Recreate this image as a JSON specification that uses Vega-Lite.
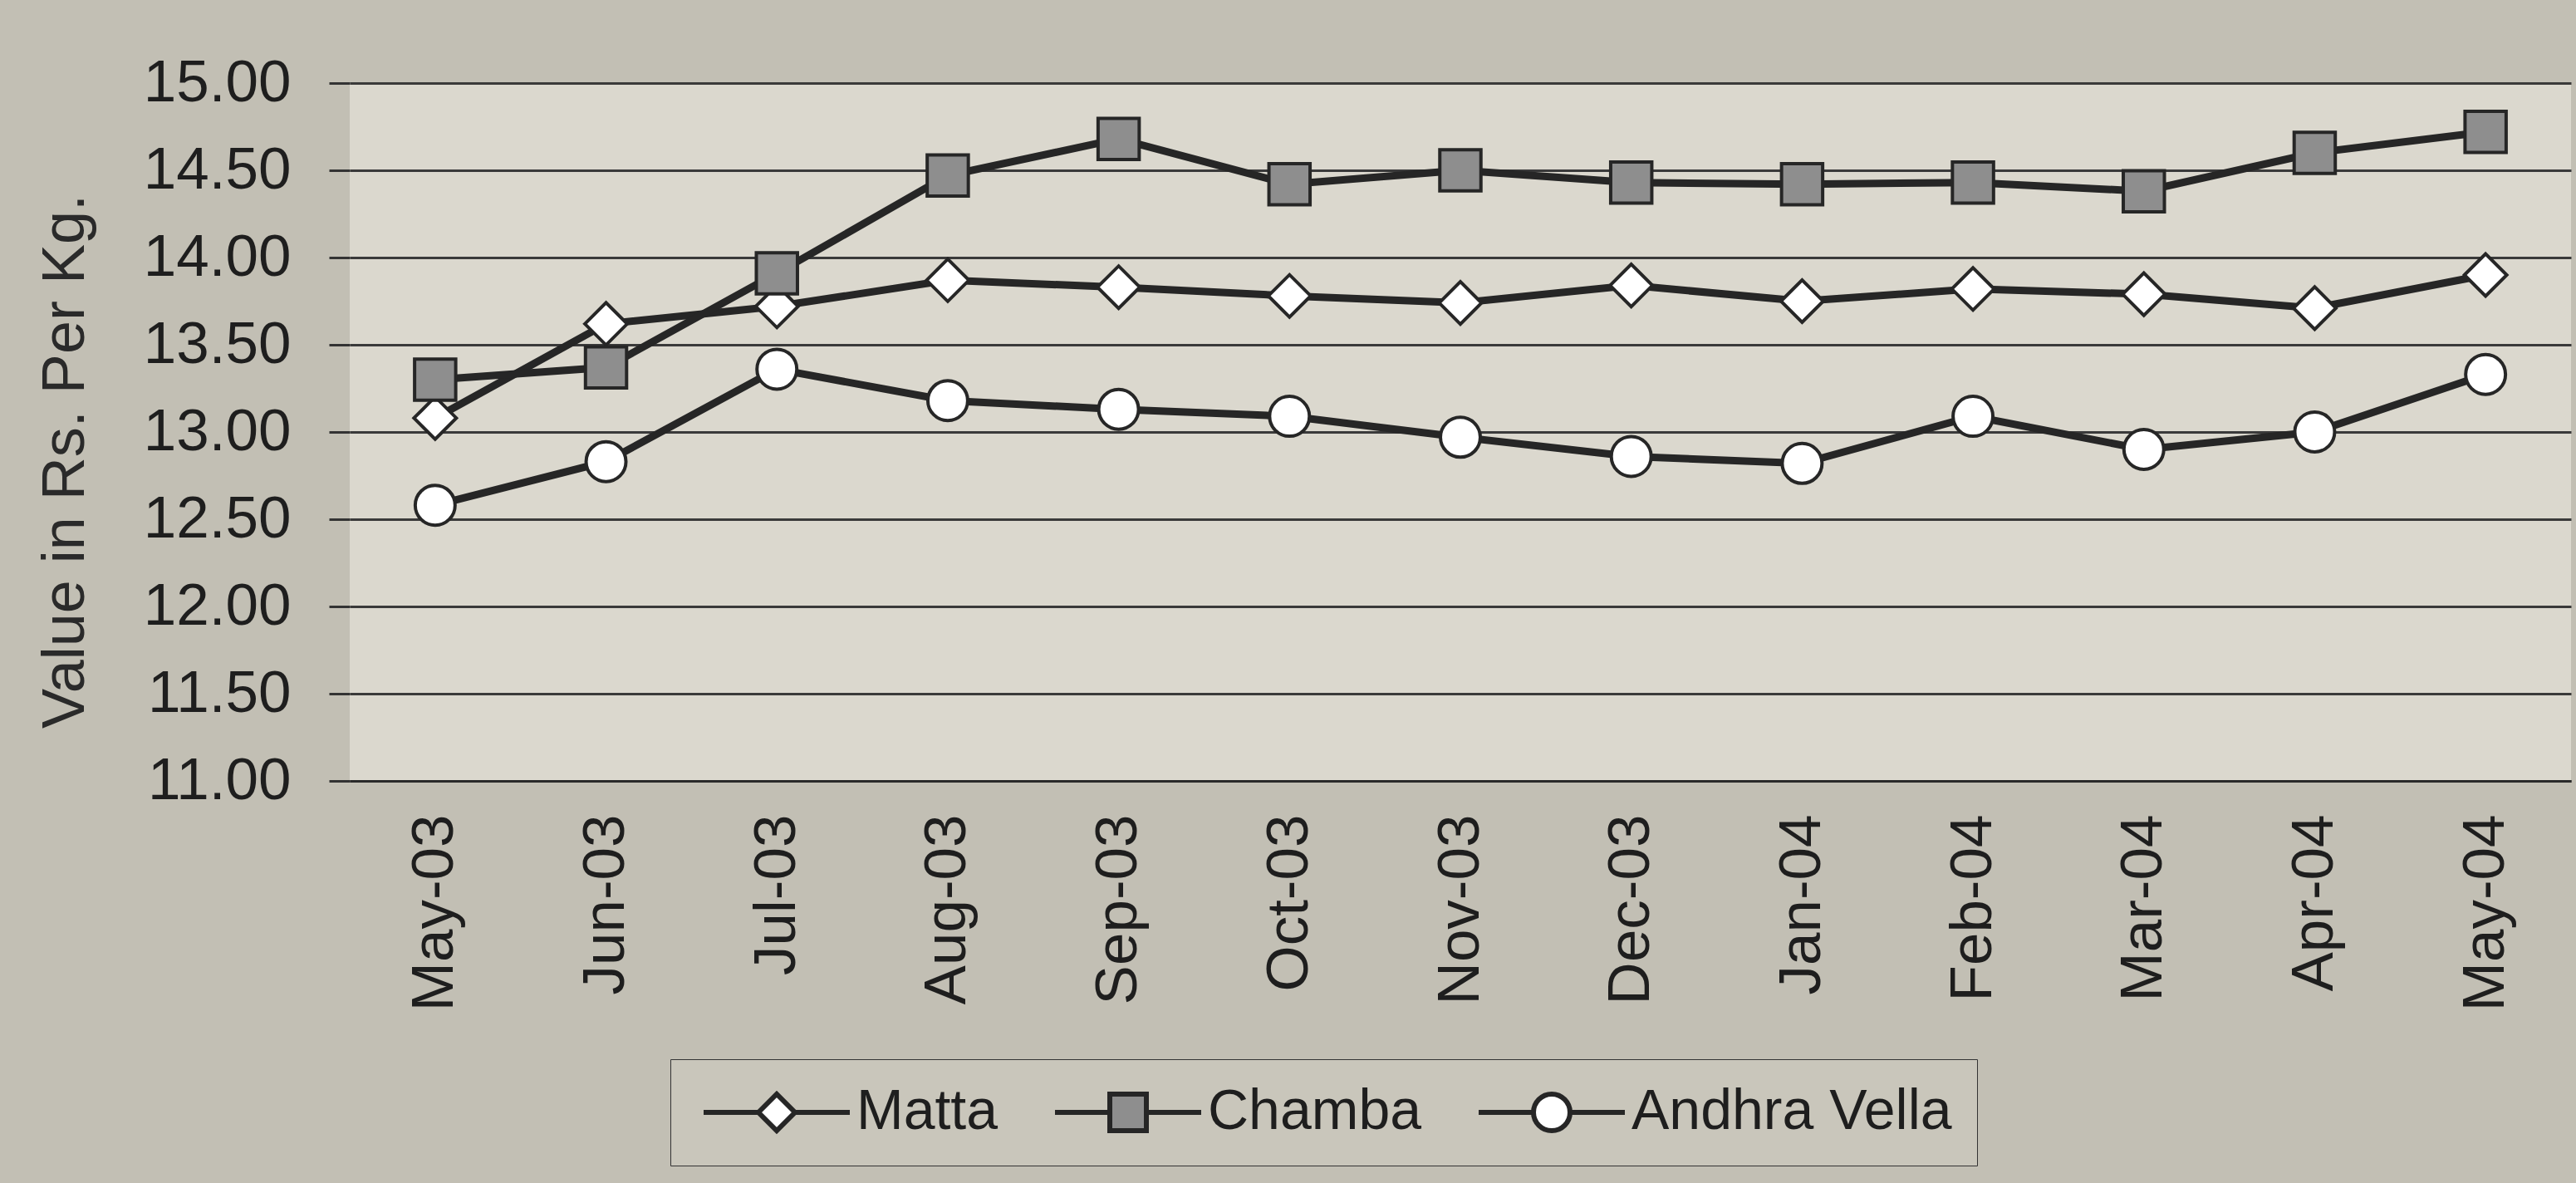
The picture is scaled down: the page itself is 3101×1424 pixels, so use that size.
{
  "$schema": "https://vega.github.io/schema/vega-lite/v6.json",
  "width": 2674,
  "height": 840,
  "autosize": {"type": "none"},
  "padding": {"left": 421, "top": 100, "right": 6, "bottom": 484},
  "background": "#c2bfb4",
  "config": {
    "font": "Liberation Sans",
    "view": {"fill": "#dbd8ce", "stroke": null},
    "legend": {"labelLimit": 0}
  },
  "data": {
    "values": [
      {"month": "May-03", "series": "Matta", "value": 13.08},
      {"month": "Jun-03", "series": "Matta", "value": 13.62},
      {"month": "Jul-03", "series": "Matta", "value": 13.72},
      {"month": "Aug-03", "series": "Matta", "value": 13.87},
      {"month": "Sep-03", "series": "Matta", "value": 13.83},
      {"month": "Oct-03", "series": "Matta", "value": 13.78},
      {"month": "Nov-03", "series": "Matta", "value": 13.74},
      {"month": "Dec-03", "series": "Matta", "value": 13.84},
      {"month": "Jan-04", "series": "Matta", "value": 13.75},
      {"month": "Feb-04", "series": "Matta", "value": 13.82},
      {"month": "Mar-04", "series": "Matta", "value": 13.79},
      {"month": "Apr-04", "series": "Matta", "value": 13.71},
      {"month": "May-04", "series": "Matta", "value": 13.90},
      {"month": "May-03", "series": "Chamba", "value": 13.30},
      {"month": "Jun-03", "series": "Chamba", "value": 13.37},
      {"month": "Jul-03", "series": "Chamba", "value": 13.91},
      {"month": "Aug-03", "series": "Chamba", "value": 14.47},
      {"month": "Sep-03", "series": "Chamba", "value": 14.68},
      {"month": "Oct-03", "series": "Chamba", "value": 14.42},
      {"month": "Nov-03", "series": "Chamba", "value": 14.50},
      {"month": "Dec-03", "series": "Chamba", "value": 14.43},
      {"month": "Jan-04", "series": "Chamba", "value": 14.42},
      {"month": "Feb-04", "series": "Chamba", "value": 14.43},
      {"month": "Mar-04", "series": "Chamba", "value": 14.38},
      {"month": "Apr-04", "series": "Chamba", "value": 14.60},
      {"month": "May-04", "series": "Chamba", "value": 14.72},
      {"month": "May-03", "series": "Andhra Vella", "value": 12.58},
      {"month": "Jun-03", "series": "Andhra Vella", "value": 12.83},
      {"month": "Jul-03", "series": "Andhra Vella", "value": 13.36},
      {"month": "Aug-03", "series": "Andhra Vella", "value": 13.18},
      {"month": "Sep-03", "series": "Andhra Vella", "value": 13.13},
      {"month": "Oct-03", "series": "Andhra Vella", "value": 13.09},
      {"month": "Nov-03", "series": "Andhra Vella", "value": 12.97},
      {"month": "Dec-03", "series": "Andhra Vella", "value": 12.86},
      {"month": "Jan-04", "series": "Andhra Vella", "value": 12.82},
      {"month": "Feb-04", "series": "Andhra Vella", "value": 13.09},
      {"month": "Mar-04", "series": "Andhra Vella", "value": 12.90},
      {"month": "Apr-04", "series": "Andhra Vella", "value": 13.00},
      {"month": "May-04", "series": "Andhra Vella", "value": 13.33}
    ]
  },
  "encoding": {
    "x": {
      "field": "month",
      "type": "ordinal",
      "sort": ["May-03","Jun-03","Jul-03","Aug-03","Sep-03","Oct-03","Nov-03","Dec-03","Jan-04","Feb-04","Mar-04","Apr-04","May-04"],
      "scale": {"domain": ["May-03","Jun-03","Jul-03","Aug-03","Sep-03","Oct-03","Nov-03","Dec-03","Jan-04","Feb-04","Mar-04","Apr-04","May-04"]},
      "axis": {
        "title": null,
        "labelAngle": -90,
        "labelAlign": "right",
        "labelBaseline": "middle",
        "labelFontSize": 71,
        "labelLimit": 0,
        "labelPadding": 40,
        "labelColor": "#1e1e1e",
        "ticks": false,
        "grid": false,
        "domainColor": "#2a2a2a",
        "domainWidth": 3
      }
    },
    "y": {
      "field": "value",
      "type": "quantitative",
      "scale": {"domain": [11, 15], "nice": false, "zero": false},
      "axis": {
        "title": "Value in Rs. Per Kg.",
        "values": [11, 11.5, 12, 12.5, 13, 13.5, 14, 14.5, 15],
        "format": ".2f",
        "labelFontSize": 71,
        "labelColor": "#1e1e1e",
        "labelPadding": 46,
        "tickSize": 25,
        "tickColor": "#333333",
        "tickWidth": 3,
        "grid": true,
        "gridColor": "#3a3a3a",
        "gridWidth": 3,
        "domain": false,
        "titleFontSize": 72,
        "titleFontWeight": "normal",
        "titleColor": "#2a2a2a",
        "titlePadding": 106,
        "titleY": 455
      }
    }
  },
  "layer": [
    {
      "mark": {"type": "line", "color": "#262626", "strokeWidth": 9},
      "encoding": {"detail": {"field": "series", "type": "nominal"}}
    },
    {
      "mark": {"type": "point", "filled": true, "stroke": "#262626", "strokeWidth": 4, "opacity": 1},
      "encoding": {
        "shape": {"field": "series", "type": "nominal", "scale": {"domain": ["Matta", "Chamba", "Andhra Vella"], "range": ["diamond", "square", "circle"]}, "legend": null},
        "fill": {"field": "series", "type": "nominal", "scale": {"domain": ["Matta", "Chamba", "Andhra Vella"], "range": ["#ffffff", "#8e8e8e", "#ffffff"]}, "legend": null},
        "size": {"field": "series", "type": "nominal", "scale": {"domain": ["Matta", "Chamba", "Andhra Vella"], "range": [2600, 2300, 3300]}, "legend": null}
      }
    },
    {
      "transform": [{"filter": "false"}],
      "mark": {"type": "point", "filled": false, "strokeWidth": 6, "opacity": 1},
      "encoding": {
        "stroke": {
          "field": "series", "type": "nominal",
          "scale": {"domain": ["Matta", "Chamba", "Andhra Vella"], "range": ["#262626", "#262626", "#262626"]},
          "legend": {"title": null, "orient": "none", "legendX": 386, "legendY": 1175, "direction": "horizontal", "labelFontSize": 68, "labelColor": "#1e1e1e", "symbolSize": 1936, "symbolStrokeWidth": 6, "symbolOffset": 64, "labelOffset": 62, "columnPadding": 56, "padding": 30, "strokeColor": "#333333", "fillColor": "#c9c6bb"}
        },
        "shape": {
          "field": "series", "type": "nominal",
          "scale": {"domain": ["Matta", "Chamba", "Andhra Vella"], "range": ["M-4,0L-1,0M-1,0L0,-1L1,0L0,1ZM1,0L4,0", "M-4,0L-1,0M-1,-1L1,-1L1,1L-1,1ZM1,0L4,0", "M-4,0L-1,0M-1,0A1,1,0,1,0,1,0A1,1,0,1,0,-1,0ZM1,0L4,0"]},
          "legend": {"title": null, "orient": "none", "legendX": 386, "legendY": 1175, "direction": "horizontal", "labelFontSize": 68, "labelColor": "#1e1e1e", "symbolSize": 1936, "symbolStrokeWidth": 6, "symbolOffset": 64, "labelOffset": 62, "columnPadding": 56, "padding": 30, "strokeColor": "#333333", "fillColor": "#c9c6bb"}
        },
        "fill": {
          "field": "series", "type": "nominal",
          "scale": {"domain": ["Matta", "Chamba", "Andhra Vella"], "range": ["#ffffff", "#8e8e8e", "#ffffff"]},
          "legend": {"title": null, "orient": "none", "legendX": 386, "legendY": 1175, "direction": "horizontal", "labelFontSize": 68, "labelColor": "#1e1e1e", "symbolSize": 1936, "symbolStrokeWidth": 6, "symbolOffset": 64, "labelOffset": 62, "columnPadding": 56, "padding": 30, "strokeColor": "#333333", "fillColor": "#c9c6bb"}
        }
      }
    }
  ],
  "resolve": {"scale": {"shape": "independent", "fill": "independent", "size": "independent", "stroke": "independent"}}
}
